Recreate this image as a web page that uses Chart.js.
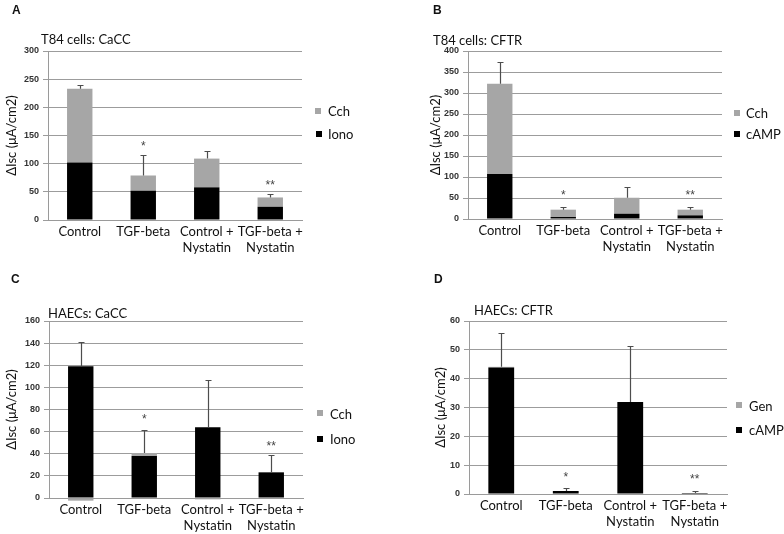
<!DOCTYPE html>
<html>
<head>
<meta charset="utf-8">
<script src="https://cdn.jsdelivr.net/npm/chart.js@4"></script>
<style>
  body { margin: 0; background: #fff; width: 784px; height: 534px; position: relative; overflow: hidden; font-family: Lato, "Liberation Sans", sans-serif; color: #111; }
  canvas { position: absolute; }
  .lbl { position: absolute; white-space: nowrap; line-height: 1; transform: translateY(-50%); }
  .letter { font-family: "Liberation Sans", sans-serif; font-weight: bold; font-size: 12px; }
  .title { font-size: 13px; }
  .leg { font-size: 13px; }
  .sq { position: absolute; width: 6px; height: 6px; transform: translate(-50%, -50%); }
</style>
</head>
<body>
<canvas id="chartA" width="392" height="267" style="left:0;top:0"></canvas>
<canvas id="chartB" width="392" height="267" style="left:392px;top:0"></canvas>
<canvas id="chartC" width="392" height="267" style="left:0;top:267px"></canvas>
<canvas id="chartD" width="392" height="267" style="left:392px;top:267px"></canvas>

<div class="lbl letter" style="left:12px;top:10px">A</div>
<div class="lbl letter" style="left:433px;top:10px">B</div>
<div class="lbl letter" style="left:11px;top:279px">C</div>
<div class="lbl letter" style="left:434px;top:279px">D</div>

<div class="lbl title" style="left:41px;top:39px">T84 cells: CaCC</div>
<div class="lbl title" style="left:433px;top:40px">T84 cells: CFTR</div>
<div class="lbl title" style="left:48px;top:313px">HAECs: CaCC</div>
<div class="lbl title" style="left:474px;top:310px">HAECs: CFTR</div>

<div class="sq" style="left:318px;top:111px;background:#a6a6a6"></div>
<div class="lbl leg" style="left:328px;top:111px">Cch</div>
<div class="sq" style="left:319px;top:134px;background:#000"></div>
<div class="lbl leg" style="left:328px;top:134px">Iono</div>

<div class="sq" style="left:737px;top:113px;background:#a6a6a6"></div>
<div class="lbl leg" style="left:746px;top:113px">Cch</div>
<div class="sq" style="left:737px;top:134px;background:#000"></div>
<div class="lbl leg" style="left:746px;top:134px">cAMP</div>

<div class="sq" style="left:320px;top:413px;background:#a6a6a6"></div>
<div class="lbl leg" style="left:330px;top:414px">Cch</div>
<div class="sq" style="left:320px;top:439px;background:#000"></div>
<div class="lbl leg" style="left:330px;top:439px">Iono</div>

<div class="sq" style="left:739px;top:405px;background:#a6a6a6"></div>
<div class="lbl leg" style="left:749px;top:406px">Gen</div>
<div class="sq" style="left:739px;top:430px;background:#000"></div>
<div class="lbl leg" style="left:749px;top:430px">cAMP</div>

<script>
const categories = ['Control', 'TGF-beta', ['Control +', 'Nystatin'], ['TGF-beta +', 'Nystatin']];

// A: T84 cells, CaCC
const aIono = [102, 52, 58, 23.5];
const aCch = [131, 27, 51, 16.5];
const aErr = [7, 37, 14, 6];
const aStars = ['', '*', '', '**'];
const aStarAt = [null, 134, null, 64];

// B: T84 cells, CFTR
const bCamp = [107, 4.7, 12.6, 8.7];
const bCch = [215, 17.5, 38, 13.5];
const bErr = [53, 5.5, 26, 5.5];
const bStars = ['', '*', '', '**'];
const bStarAt = [null, 60, null, 60];

// C: HAECs, CaCC
const cIono = [119, 38, 64, 23.2];
const cCch = [-2.4, 2.7, -1.2, 0];
const cErr = [21.7, 20.7, 42.6, 15.7];
const cStars = ['', '*', '', '**'];
const cStarAt = [null, 73, null, 48];

// D: HAECs, CFTR
const dCamp = [43.9, 1.05, 31.9, 0.35];
const dGen = [0.2, 0, 0, 0];
const dErr = [11.8, 1.0, 19.4, 0.6];
const dStars = ['', '*', '', '**'];
const dStarAt = [null, 6.3, null, 5.8];

function errPlugin(err, stars, starAt) {
    return {
        id: 'errbars',
        afterDatasetsDraw(chart) {
            let ctx = chart.ctx;
            let x = chart.scales.x, y = chart.scales.y;
            let base = chart.data.datasets[0].data;
            let top = chart.data.datasets[1].data;
            ctx.save();
            ctx.strokeStyle = '#4d4d4d';
            ctx.lineWidth = 1.2;
            err.forEach((e, i) => {
                let total = base[i] + Math.max(top[i], 0);
                let px = Math.round(x.getPixelForValue(i)) + 0.5;
                let y0 = y.getPixelForValue(total);
                let y1 = Math.round(y.getPixelForValue(total + e)) + 0.5;
                ctx.beginPath();
                ctx.moveTo(px, y0);
                ctx.lineTo(px, y1);
                ctx.moveTo(px - 3, y1);
                ctx.lineTo(px + 3, y1);
                ctx.stroke();
            });
            ctx.fillStyle = '#444';
            ctx.font = '12px "Liberation Sans", sans-serif';
            ctx.textAlign = 'center';
            ctx.textBaseline = 'middle';
            stars.forEach((s, i) => {
                if (!s) return;
                ctx.fillText(s, x.getPixelForValue(i), y.getPixelForValue(starAt[i]) + 2);
            });
            ctx.restore();
        }
    };
}

function makePanel(id, p) {
    new Chart(document.getElementById(id), {
        type: 'bar',
        data: {
            labels: categories,
            datasets: [
                { label: p.baseName, data: p.base, backgroundColor: '#000000' },
                { label: p.topName, data: p.top, backgroundColor: '#a6a6a6', clip: false }
            ]
        },
        options: {
            responsive: false,
            animation: false,
            devicePixelRatio: 1,
            layout: { padding: p.pad },
            datasets: { bar: { categoryPercentage: 1, barPercentage: 0.4 } },
            plugins: { legend: { display: false }, tooltip: { enabled: false } },
            scales: {
                x: {
                    stacked: true,
                    grid: { display: false, drawTicks: false },
                    border: { color: '#9a9a9a', width: 1 },
                    ticks: {
                        autoSkip: false, maxRotation: 0, padding: 4,
                        color: '#111',
                        font: { family: 'Lato, "Liberation Sans", sans-serif', size: 13, lineHeight: 1.22 }
                    },
                    afterFit: s => { s.height = p.xH; }
                },
                y: {
                    stacked: true,
                    min: 0,
                    max: p.max,
                    grid: { color: '#9c9c9c', tickLength: 5 },
                    border: { color: '#9a9a9a', width: 1 },
                    ticks: {
                        stepSize: p.step, padding: 4, color: '#333',
                        font: { family: '"Liberation Sans", sans-serif', size: 9, weight: 'bold' }
                    },
                    title: {
                        display: true, text: 'ΔIsc (μA/cm2)', color: '#111',
                        font: { family: 'Lato, "Liberation Sans", sans-serif', size: 13 }
                    },
                    afterFit: s => { s.width = p.yW; }
                }
            }
        },
        plugins: [errPlugin(p.err, p.stars, p.starAt)]
    });
}

makePanel('chartA', {
    base: aIono, top: aCch, baseName: 'Iono', topName: 'Cch',
    err: aErr, stars: aStars, starAt: aStarAt,
    max: 300, step: 50, yW: 48, xH: 47,
    pad: { left: 0, top: 51, right: 90, bottom: 0 }
});
makePanel('chartB', {
    base: bCamp, top: bCch, baseName: 'cAMP', topName: 'Cch',
    err: bErr, stars: bStars, starAt: bStarAt,
    max: 400, step: 50, yW: 44, xH: 48,
    pad: { left: 32, top: 51, right: 62, bottom: 0 }
});
makePanel('chartC', {
    base: cIono, top: cCch, baseName: 'Iono', topName: 'Cch',
    err: cErr, stars: cStars, starAt: cStarAt,
    max: 160, step: 20, yW: 49, xH: 36,
    pad: { left: 0, top: 54, right: 89, bottom: 0 }
});
makePanel('chartD', {
    base: dCamp, top: dGen, baseName: 'cAMP', topName: 'Gen',
    err: dErr, stars: dStars, starAt: dStarAt,
    max: 60, step: 10, yW: 40, xH: 40,
    pad: { left: 37, top: 54, right: 57, bottom: 0 }
});
</script>
</body>
</html>
